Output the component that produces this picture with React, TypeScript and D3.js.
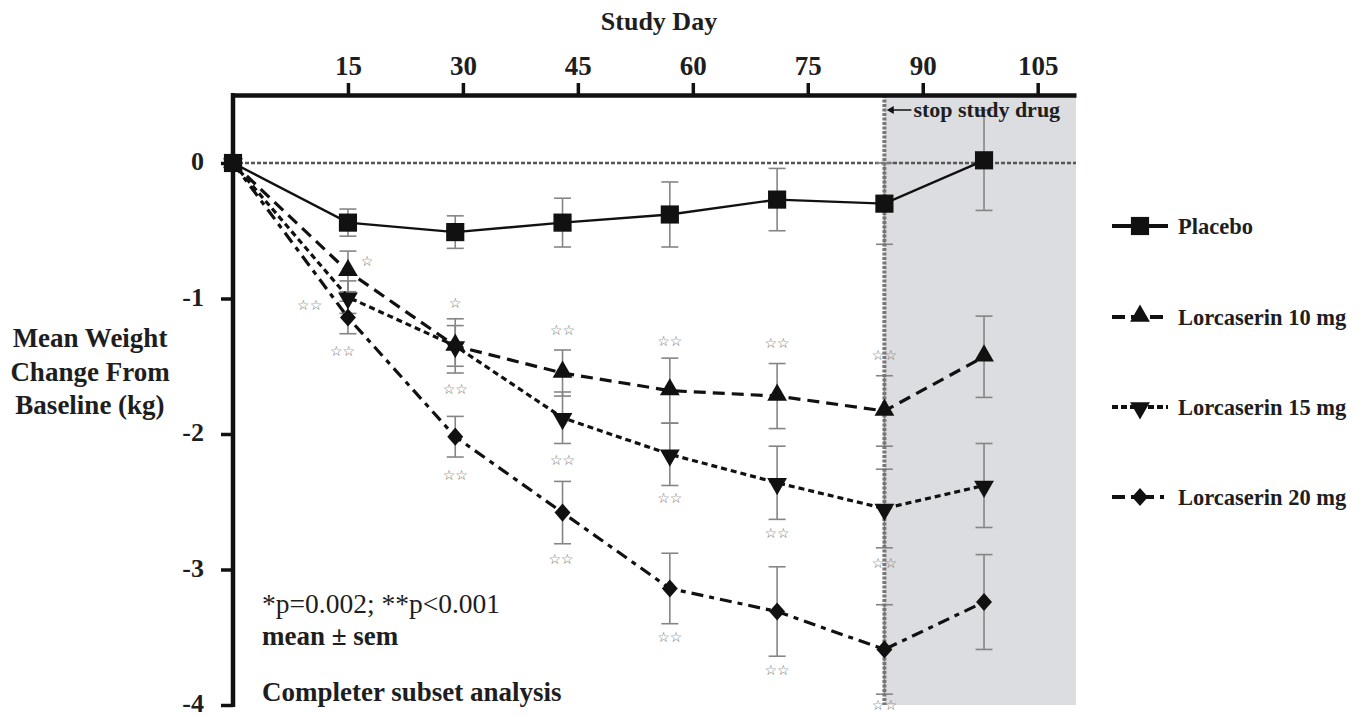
import React, { useEffect, useRef } from "react";
import * as d3 from "d3";

// study days of each visit
const days = [0, 15, 29, 43, 57, 71, 85, 98];

const placeboMean = [0, -0.44, -0.51, -0.44, -0.38, -0.27, -0.3, 0.02];
const placeboSem = [0, 0.1, 0.12, 0.18, 0.24, 0.23, 0.3, 0.37];
const lorc10Mean = [0, -0.8, -1.35, -1.55, -1.68, -1.72, -1.83, -1.43];
const lorc10Sem = [0, 0.15, 0.2, 0.17, 0.24, 0.24, 0.26, 0.3];
const lorc15Mean = [0, -0.99, -1.35, -1.88, -2.15, -2.36, -2.55, -2.38];
const lorc15Sem = [0, 0.12, 0.15, 0.19, 0.23, 0.27, 0.29, 0.31];
const lorc20Mean = [0, -1.14, -2.02, -2.58, -3.14, -3.31, -3.59, -3.24];
const lorc20Sem = [0, 0.12, 0.15, 0.23, 0.26, 0.33, 0.33, 0.35];

const seriesNames = ["Placebo", "Lorcaserin 10 mg", "Lorcaserin 15 mg", "Lorcaserin 20 mg"];

const xTicks = [15, 30, 45, 60, 75, 90, 105];
const yTicks = [0, -1, -2, -3, -4];
const stopDay = 85;

// significance marks: [day, kg, label]
const sigMarks: [number, number, string][] = [
  [17.5, -0.72, "*"],
  [10, -1.05, "**"],
  [14.3, -1.39, "**"],
  [29, -1.03, "*"],
  [29, -1.67, "**"],
  [29, -2.3, "**"],
  [43, -1.23, "**"],
  [43, -2.19, "**"],
  [42.8, -2.92, "**"],
  [57, -1.31, "**"],
  [57, -2.47, "**"],
  [57, -3.5, "**"],
  [71, -1.33, "**"],
  [71, -2.73, "**"],
  [71, -3.74, "**"],
  [85, -1.42, "**"],
  [85, -2.95, "**"],
  [85, -4.0, "**"],
];

const FONT = "'Liberation Serif', 'Times New Roman', serif";
const INK = "#1e1e1e";

export default function App() {
  const ref = useRef<SVGSVGElement>(null);

  useEffect(() => {
    const svg = d3.select(ref.current);
    svg.selectAll("*").remove();

    const x = d3.scaleLinear().domain([0, 110]).range([233, 1076]);
    const y = d3.scaleLinear().domain([0, -4]).range([163, 705]);
    const axisTop = 95;

    const diamond = d3.symbol().type(d3.symbolSquare).size(150);

    const series = [
      { name: seriesNames[0], mean: placeboMean, sem: placeboSem, dash: null, legDash: null, sym: d3.symbol().type(d3.symbolSquare).size(330), tf: "" },
      { name: seriesNames[1], mean: lorc10Mean, sem: lorc10Sem, dash: "12,7", legDash: "13,6", sym: d3.symbol().type(d3.symbolTriangle).size(170), tf: "translate(0,-1)" },
      { name: seriesNames[2], mean: lorc15Mean, sem: lorc15Sem, dash: "6,4", legDash: "6,3", sym: d3.symbol().type(d3.symbolTriangle).size(170), tf: "translate(0,1) rotate(180)" },
      { name: seriesNames[3], mean: lorc20Mean, sem: lorc20Sem, dash: "12,6,5,6", legDash: "13,6,4,6", sym: diamond, tf: "scale(0.92,1.05) rotate(45)" },
    ];

    // shaded post-treatment area
    svg.append("rect")
      .attr("x", x(stopDay))
      .attr("y", axisTop)
      .attr("width", x(110) - x(stopDay))
      .attr("height", y(-4) - axisTop)
      .attr("fill", "#dcdde0");

    // zero reference line
    svg.append("line")
      .attr("x1", x(0)).attr("x2", x(110))
      .attr("y1", y(0)).attr("y2", y(0))
      .attr("stroke", "#555").attr("stroke-width", 2.5)
      .attr("stroke-dasharray", "4,2");

    // error bars
    const eb = svg.append("g").attr("stroke", "#858585").attr("stroke-width", 1.6);
    series.forEach((s) => {
      days.forEach((d, i) => {
        if (s.sem[i] === 0) return;
        const cx = x(d);
        const y1 = y(s.mean[i] + s.sem[i]);
        const y2 = y(s.mean[i] - s.sem[i]);
        eb.append("line").attr("x1", cx).attr("x2", cx).attr("y1", y1).attr("y2", y2);
        eb.append("line").attr("x1", cx - 8.5).attr("x2", cx + 8.5).attr("y1", y1).attr("y2", y1);
        eb.append("line").attr("x1", cx - 8.5).attr("x2", cx + 8.5).attr("y1", y2).attr("y2", y2);
      });
    });

    // stop study drug line
    svg.append("line")
      .attr("x1", x(stopDay)).attr("x2", x(stopDay))
      .attr("y1", axisTop).attr("y2", y(-4))
      .attr("stroke", "#777").attr("stroke-width", 4)
      .attr("stroke-dasharray", "3,1.5");

    // lines and markers
    series.slice().reverse().forEach((s) => {
      const line = d3.line<number>().x((d, i) => x(days[i])).y((d) => y(d));
      svg.append("path")
        .datum(s.mean)
        .attr("d", line)
        .attr("fill", "none")
        .attr("stroke", "#111")
        .attr("stroke-width", s.dash ? 3.2 : 2.4)
        .attr("stroke-dasharray", s.dash);
      svg.append("g").selectAll("path")
        .data(s.mean)
        .join("path")
        .attr("d", s.sym)
        .attr("fill", "#111")
        .attr("transform", (d, i) => `translate(${x(days[i])},${y(d)}) ${s.tf}`);
    });

    // significance stars
    svg.append("g").selectAll("text")
      .data(sigMarks)
      .join("text")
      .attr("x", (d) => x(d[0]))
      .attr("y", (d) => y(d[1]))
      .attr("text-anchor", "middle")
      .attr("dominant-baseline", "central")
      .attr("font-family", "'DejaVu Sans', sans-serif")
      .attr("font-size", 14)
      .attr("fill", "#6e6e6e")
      .text((d) => d[2].replace(/\*/g, "☆"));

    // axes
    const xAxis = svg.append("g")
      .attr("transform", `translate(0,${axisTop})`)
      .call(d3.axisTop(x).tickValues(xTicks).tickSize(12).tickSizeOuter(0));
    xAxis.select(".domain").attr("stroke", "#111").attr("stroke-width", 4.5);
    xAxis.selectAll(".tick line").attr("stroke", "#111").attr("stroke-width", 3.5);
    xAxis.selectAll(".tick text")
      .attr("font-family", FONT).attr("font-weight", "bold").attr("font-size", 27)
      .attr("fill", INK).attr("y", -20).attr("dy", null);

    const yAxis = svg.append("g")
      .attr("transform", `translate(${x(0)},0)`)
      .call(d3.axisLeft(y).tickValues(yTicks).tickSize(12).tickFormat((d) => String(d)));
    yAxis.select(".domain").remove();
    yAxis.selectAll(".tick line").attr("stroke", "#111").attr("stroke-width", 3.5);
    yAxis.selectAll(".tick text")
      .attr("font-family", FONT).attr("font-weight", "bold").attr("font-size", 26)
      .attr("fill", INK).attr("x", -29).attr("dy", "0.26em");
    svg.append("line")
      .attr("x1", x(0)).attr("x2", x(0))
      .attr("y1", axisTop - 2).attr("y2", y(-4) + 2)
      .attr("stroke", "#111").attr("stroke-width", 4.5);

    // titles
    svg.append("text")
      .attr("x", 659).attr("y", 30)
      .attr("text-anchor", "middle")
      .attr("font-family", FONT).attr("font-weight", "bold").attr("font-size", 26)
      .attr("fill", INK)
      .text("Study Day");

    const yTitle = svg.append("text")
      .attr("text-anchor", "middle")
      .attr("font-family", FONT).attr("font-weight", "bold").attr("font-size", 27)
      .attr("fill", INK);
    ["Mean Weight", "Change From", "Baseline (kg)"].forEach((t, i) => {
      yTitle.append("tspan").attr("x", 90).attr("y", 347 + i * 33.5).text(t);
    });

    // stop study drug note
    svg.append("line")
      .attr("x1", x(stopDay) + 27).attr("x2", x(stopDay) + 6)
      .attr("y1", 110).attr("y2", 110)
      .attr("stroke", "#111").attr("stroke-width", 1.5);
    svg.append("path")
      .attr("d", d3.symbol().type(d3.symbolTriangle).size(28))
      .attr("transform", `translate(${x(stopDay) + 7},110) rotate(-90)`)
      .attr("fill", "#111");
    svg.append("text")
      .attr("x", x(stopDay) + 29).attr("y", 117)
      .attr("font-family", FONT).attr("font-weight", "bold").attr("font-size", 22)
      .attr("fill", INK)
      .text("stop study drug");

    // notes
    svg.append("text")
      .attr("x", 262).attr("y", 613)
      .attr("font-family", FONT).attr("font-size", 27.5).attr("fill", INK)
      .text("*p=0.002; **p<0.001");
    svg.append("text")
      .attr("x", 262).attr("y", 645)
      .attr("font-family", FONT).attr("font-weight", "bold").attr("font-size", 27).attr("fill", INK)
      .text("mean ± sem");
    svg.append("text")
      .attr("x", 262).attr("y", 701)
      .attr("font-family", FONT).attr("font-weight", "bold").attr("font-size", 27).attr("fill", INK)
      .text("Completer subset analysis");

    // legend
    const legendY = [226, 317, 407, 497];
    series.forEach((s, i) => {
      const g = svg.append("g").attr("transform", `translate(1112,${legendY[i]})`);
      g.append("line")
        .attr("x1", 0).attr("x2", 56).attr("y1", 0).attr("y2", 0)
        .attr("stroke", "#111").attr("stroke-width", 4)
        .attr("stroke-dasharray", s.legDash);
      g.append("path")
        .attr("d", s.sym)
        .attr("transform", `translate(28,0) ${s.tf}`)
        .attr("fill", "#111");
      g.append("text")
        .attr("x", 66).attr("y", 8)
        .attr("font-family", FONT).attr("font-weight", "bold").attr("font-size", 22.5)
        .attr("fill", INK)
        .text(s.name);
    });
  }, []);

  return (
    <svg
      ref={ref}
      width={1363}
      height={717}
      style={{ position: "absolute", left: 0, top: 0, background: "#fff" }}
    />
  );
}
